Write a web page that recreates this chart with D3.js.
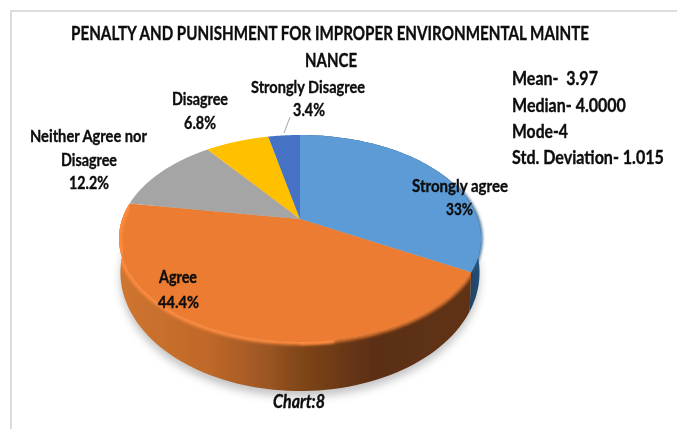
<!DOCTYPE html>
<html><head><meta charset="utf-8">
<script src="https://cdnjs.cloudflare.com/ajax/libs/d3/7.8.5/d3.min.js"></script>
<style>html,body{margin:0;padding:0;background:#fff}svg{display:block}text{font-family:Lato,"Open Sans",sans-serif;fill:#0c0c0c;stroke:#0c0c0c;stroke-width:0.35;white-space:pre}</style>
</head><body><svg id="c" width="677" height="429"></svg>
<script>
const categories=["Strongly agree","Agree","Neither Agree nor Disagree","Disagree","Strongly Disagree"];
const percentages=[33,44.4,12.2,6.8,3.4];
const valueLabels=["33%","44.4%","12.2%","6.8%","3.4%"];
const titleLines=["PENALTY AND PUNISHMENT FOR IMPROPER ENVIRONMENTAL MAINTE","NANCE"];
const statLines=["Mean-  3.97","Median- 4.0000","Mode-4","Std. Deviation- 1.015"];
const caption="Chart:8";
const topColors=["#5b9bd5","#eb7c31","#a5a5a5","#ffc000","#4472c4"];

const root=d3.select("#c");
const defs=root.append("defs");
const W=677,H=429;
const mkBlur=(id,s)=>defs.append("filter").attr("id",id).attr("x","-20%").attr("y","-20%").attr("width","140%").attr("height","140%").append("feGaussianBlur").attr("stdDeviation",s);
mkBlur("soft",0.35);mkBlur("blurS",4);mkBlur("blurR",1.6);
const svg=root.append("g").attr("filter","url(#soft)");
svg.append("rect").attr("width",W).attr("height",H).attr("fill","#fff");
svg.append("path").attr("d",`M11,${H}V11H${W}`).attr("fill","none").attr("stroke","#dcdcdc").attr("stroke-width",2);

// disc in perspective: angle -> screen point
const cx=300,cy=219,b=177.8,a=99.8,k=0.188;
const proj=t=>{const u=Math.sin(t),v=-Math.cos(t),w=1-k*v;return [cx+b*u/w,cy+a*v/w];};
const low=t=>{const p=proj(t);return [cx+(p[0]-cx)*0.992,272+(p[1]-238)*118/103];};
const line=d3.line();
const arcs=d3.pie().sort(null).value(d=>d)(percentages);
const samples=(s,e)=>d3.range(0,81).map(i=>s+(e-s)*i/80);

const grad=defs.append("linearGradient").attr("id","wallO").attr("gradientUnits","userSpaceOnUse").attr("x1",120).attr("x2",480).attr("y1",0).attr("y2",0);
[[0,"#cf7530"],[0.25,"#bf6829"],[0.4,"#9e5724"],[0.5,"#804619"],[0.7,"#5b2f12"],[1,"#5f3113"]].forEach(s=>grad.append("stop").attr("offset",s[0]).attr("stop-color",s[1]));
const gradB=defs.append("linearGradient").attr("id","wallB").attr("gradientUnits","userSpaceOnUse").attr("x1",466).attr("x2",482).attr("y1",0).attr("y2",0);
[[0,"#1d3d5c"],[0.7,"#234b70"],[1,"#2f6191"]].forEach(s=>gradB.append("stop").attr("offset",s[0]).attr("stop-color",s[1]));

// soft shadow under the disc
svg.append("path").attr("d",line(samples(0,2*Math.PI).map(low).map(p=>[p[0],p[1]+6]))+"Z").attr("fill","#c4c4c4").attr("filter","url(#blurS)");

// wall
const wallFill=["url(#wallB)","url(#wallO)"];
arcs.slice(0,2).forEach((d,i)=>{
  const ts=samples(d.startAngle,d.endAngle);
  svg.append("path").attr("d",line(ts.map(proj).concat(ts.slice().reverse().map(low)))+"Z").attr("fill",wallFill[i]);
});

// soft edge of the blue rim against its wall
svg.append("path").attr("d",line(samples(arcs[0].startAngle+1.2,arcs[0].endAngle).map(proj))).attr("fill","none").attr("stroke","#2f5f8c").attr("stroke-width",3).attr("filter","url(#blurR)");

// top faces
arcs.forEach((d,i)=>{
  svg.append("path").attr("d",line([[cx,cy]].concat(samples(d.startAngle,d.endAngle).map(proj)))+"Z").attr("fill",topColors[i]);
});

// bevel along the orange rim: orange bleed on the right, lit band on the left
const ot=samples(arcs[1].startAngle,arcs[1].endAngle);
defs.append("clipPath").attr("id","oc").append("path").attr("d",line(ot.map(proj).concat(ot.slice().reverse().map(low)))+"Z");
const rim=svg.append("g").attr("clip-path","url(#oc)");
rim.append("path").attr("d",line(samples(arcs[1].startAngle,Math.PI).map(proj))).attr("fill","none").attr("stroke","#e0752e").attr("stroke-width",5).attr("filter","url(#blurR)");
rim.append("path").attr("d",line(samples(Math.PI*0.95,arcs[1].endAngle).map(proj))).attr("fill","none").attr("stroke","#ff8c40").attr("stroke-width",6).attr("filter","url(#blurR)");

// leader
svg.append("line").attr("x1",290).attr("y1",117).attr("x2",284).attr("y2",133).attr("stroke","#a6a6a6");

// text, squeezed horizontally to the condensed look of the source face
function txt(s,x,y,size,w,anchor="middle",style="normal"){
  const t=svg.append("text").attr("font-size",size).attr("text-anchor",anchor).attr("font-weight",700).attr("font-style",style).text(s);
  const n=t.node().getComputedTextLength();
  t.attr("transform",`translate(${x},${y}) scale(${w/n},1)`);
  return t;
}
txt(titleLines[0],330,40,19.5,518);
txt(titleLines[1],331,67,19.5,52);

const labelLines=[[categories[0],valueLabels[0]],[categories[1],valueLabels[1]],["Neither Agree nor","Disagree",valueLabels[2]],[categories[3],valueLabels[3]],[categories[4],valueLabels[4]]];
const labelLayout=[
 {x:[460,459.5],y:[192,215],w:[96,27]},
 {x:[178,178.5],y:[283,308],w:[38,41]},
 {x:[88.5,89,89],y:[142,166,189],w:[117,56,40]},
 {x:[200,200],y:[105,129],w:[56,32]},
 {x:[308,309],y:[93,116],w:[114,32]}];
labelLines.forEach((ls,i)=>ls.forEach((s,j)=>txt(s,labelLayout[i].x[j],labelLayout[i].y[j],17,labelLayout[i].w[j])));

const statY=[85,112,138,164],statW=[86,114,56,152];
statLines.forEach((s,i)=>txt(s,512,statY[i],18.5,statW[i],"start"));
txt(caption,299,408,18,52,"middle","italic");
</script></body></html>
